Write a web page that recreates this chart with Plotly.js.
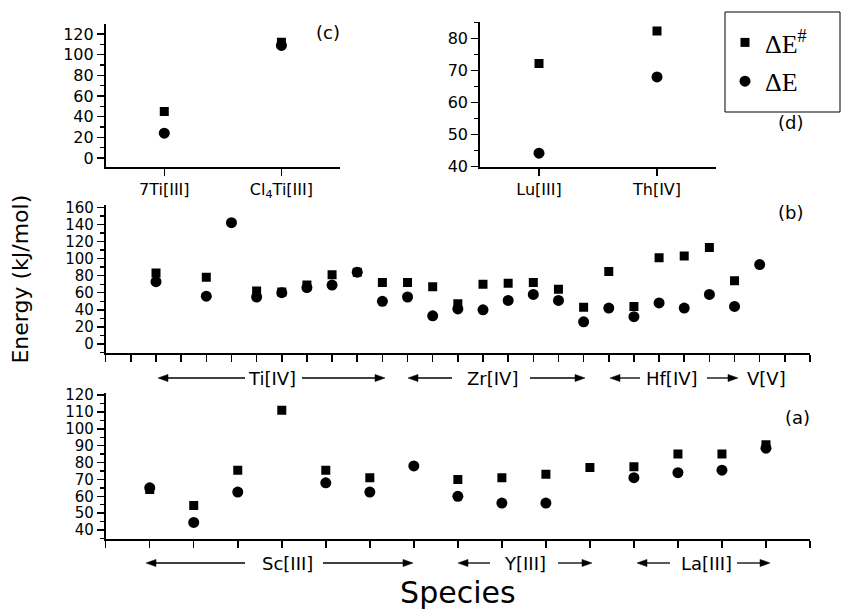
<!DOCTYPE html>
<html><head><meta charset="utf-8">
<script src="https://cdn.plot.ly/plotly-3.0.1.min.js"></script>
<style>html,body{margin:0;padding:0;background:#fff}</style>
</head><body><div id="chart" style="width:841px;height:610px"></div>
<script>
// ---- data ----
// Panel (c)
const cCategories = ['7Ti[III]', 'Cl<sub>4</sub>Ti[III]'];
const cBarrier = [45, 112];
const cReaction = [24, 109];
// Panel (d)
const dCategories = ['Lu[III]', 'Th[IV]'];
const dBarrier = [72.2, 82.3];
const dReaction = [44.2, 68.0];
// Panel (b): Ti[IV], Zr[IV], Hf[IV], V[V] species (index positions on the axis)
const bSpecies  = [2, 4, 5, 6, 7, 8, 9, 10, 11, 12, 13, 14, 15, 16, 17, 18, 19, 20, 21, 22, 23, 24, 25, 26];
const bBarrier  = [83, 78, null, 62, 61, 69, 81, 84, 72, 72, 67, 47, 70, 71, 72, 64, 43, 85, 44, 101, 103, 113, 74, null];
const bReaction = [73, 56, 142, 55, 60, 66, 69, 84, 50, 55, 33, 41, 40, 51, 58, 51, 26, 42, 32, 48, 42, 58, 44, 93];
// Panel (a): Sc[III], Y[III], La[III] species
const aSpecies  = [1, 2, 3, 4, 5, 6, 7, 8, 9, 10, 11, 12, 13, 14, 15];
const aBarrier  = [64, 54.5, 75.5, 111, 75.5, 71, null, 70, 71, 73, 77, 77.5, 85, 85, 90.5];
const aReaction = [65, 44.5, 62.5, null, 68, 62.5, 78, 60, 56, 56, null, 71, 74, 75.5, 88.5];
// Group labels
const bGroups = ['Ti[IV]', 'Zr[IV]', 'Hf[IV]', 'V[V]'];
const aGroups = ['Sc[III]', 'Y[III]', 'La[III]'];
const seriesNames = ['ΔE<sup>#</sup>', 'ΔE'];
const panelLabels = ['(a)', '(b)', '(c)', '(d)'];

// ---- layout helpers (pixel -> paper) ----
const W = 841, H = 610;
const px = v => v / W;
const py = v => 1 - v / H;
const FONT = 'DejaVu Sans, Arial, sans-serif';

const sq = {symbol: 'square', size: 9, color: '#000'};
const ci = {symbol: 'circle', size: 11, color: '#000'};

const traces = [
  {x: cCategories, y: cBarrier, xaxis: 'x', yaxis: 'y', mode: 'markers', marker: sq, name: seriesNames[0], legendgroup: 'g1', showlegend: true},
  {x: cCategories, y: cReaction, xaxis: 'x', yaxis: 'y', mode: 'markers', marker: ci, name: seriesNames[1], legendgroup: 'g2', showlegend: true},
  {x: dCategories, y: dBarrier, xaxis: 'x2', yaxis: 'y2', mode: 'markers', marker: sq, name: seriesNames[0], showlegend: false},
  {x: dCategories, y: dReaction, xaxis: 'x2', yaxis: 'y2', mode: 'markers', marker: ci, name: seriesNames[1], showlegend: false},
  {x: bSpecies, y: bBarrier, xaxis: 'x3', yaxis: 'y3', mode: 'markers', marker: sq, name: seriesNames[0], showlegend: false},
  {x: bSpecies, y: bReaction, xaxis: 'x3', yaxis: 'y3', mode: 'markers', marker: ci, name: seriesNames[1], showlegend: false},
  {x: aSpecies, y: aBarrier, xaxis: 'x4', yaxis: 'y4', mode: 'markers', marker: sq, name: seriesNames[0], showlegend: false},
  {x: aSpecies, y: aReaction, xaxis: 'x4', yaxis: 'y4', mode: 'markers', marker: ci, name: seriesNames[1], showlegend: false}
];

const axBase = {
  showline: true, linecolor: '#000', linewidth: 1.8, ticks: 'outside', ticklen: 7,
  tickwidth: 1.5, tickcolor: '#000', showgrid: false, zeroline: false, fixedrange: true,
  tickfont: {family: FONT, size: 16, color: '#000'}
};
const smallTicks = {family: FONT, size: 15, color: '#000'};
const yMinor = d => ({dtick: d, ticks: 'outside', ticklen: 4, tickwidth: 1.3, tickcolor: '#000', showgrid: false});

const layout = {
  width: W, height: H,
  margin: {l: 0, r: 0, t: 0, b: 0},
  paper_bgcolor: '#fff', plot_bgcolor: 'rgba(0,0,0,0)',
  font: {family: FONT, color: '#000'},
  showlegend: true,
  legend: {
    x: px(725), y: py(19), xanchor: 'left', yanchor: 'top',
    borderwidth: 0, bgcolor: 'rgba(0,0,0,0)',
    font: {family: 'Liberation Serif, Times New Roman, serif', size: 26, color: '#000'},
    traceorder: 'grouped', tracegroupgap: 2
  },
  // (c)
  xaxis: Object.assign({}, axBase, {domain: [px(105.7), px(340)], anchor: 'y', type: 'category', range: [-0.5, 1.5]}),
  yaxis: Object.assign({}, axBase, {domain: [py(167), py(24)], anchor: 'x', range: [-8.7, 129.7], dtick: 20, minor: yMinor(10)}),
  // (d)
  xaxis2: Object.assign({}, axBase, {domain: [px(480), px(716)], anchor: 'y2', type: 'category', range: [-0.5, 1.5]}),
  yaxis2: Object.assign({}, axBase, {domain: [py(166.7), py(21.7)], anchor: 'x2', range: [40, 85.2], dtick: 10, minor: yMinor(5)}),
  // (b)
  xaxis3: Object.assign({}, axBase, {domain: [px(105.7), px(810)], anchor: 'y3', range: [0, 28], dtick: 1, showticklabels: false}),
  yaxis3: Object.assign({}, axBase, {domain: [py(353.3), py(205)], anchor: 'x3', range: [-10.9, 162.7], dtick: 20, minor: yMinor(10),
    tickfont: smallTicks,
    title: {text: 'Energy (kJ/mol)', font: {family: FONT, size: 22, color: '#000'}, standoff: 30}}),
  // (a)
  xaxis4: Object.assign({}, axBase, {domain: [px(105.7), px(810)], anchor: 'y4', range: [0, 16], dtick: 1, showticklabels: false,
    title: {text: 'Species', font: {family: FONT, size: 30, color: '#000'}, standoff: 42}}),
  yaxis4: Object.assign({}, axBase, {domain: [py(539.3), py(392.7)], anchor: 'x4', range: [34.5, 121.4], dtick: 10, minor: yMinor(5),
    tickfont: smallTicks}),
  annotations: [],
  shapes: [
    // legend frame
    {type: 'rect', xref: 'paper', yref: 'paper', x0: px(725), x1: px(840), y0: py(112), y1: py(12),
     line: {color: '#000', width: 1}, fillcolor: 'rgba(0,0,0,0)'}
  ]
};

const ann = layout.annotations;
const shp = layout.shapes;
function label(text, xpx, ypx, size) {
  ann.push({text: text, xref: 'paper', yref: 'paper', x: px(xpx), y: py(ypx), showarrow: false,
    xanchor: 'center', yanchor: 'middle', font: {family: FONT, size: size || 18, color: '#000'}});
}
function arrow(headPx, tailPx, ypx) {
  const d = headPx > tailPx ? 1 : -1;
  const L = 10, hw = 3.6;
  shp.push({type: 'line', xref: 'paper', yref: 'paper', x0: px(tailPx), x1: px(headPx - d * (L - 2)),
    y0: py(ypx), y1: py(ypx), line: {color: '#000', width: 1.3}});
  const p = (a, b) => px(a) + ',' + py(b);
  shp.push({type: 'path', xref: 'paper', yref: 'paper',
    path: 'M' + p(headPx, ypx) + ' L' + p(headPx - d * L, ypx - hw) + ' L' + p(headPx - d * L, ypx + hw) + ' Z',
    fillcolor: '#000', line: {color: '#000', width: 0.5}});
}
// Panel (b) group arrows
const yb = 378;
arrow(158, 245, yb); arrow(385, 302, yb); label(bGroups[0], 272, yb);
arrow(408, 452, yb); arrow(585, 530, yb); label(bGroups[1], 493, yb);
arrow(610, 640, yb); arrow(738, 707, yb); label(bGroups[2], 672, yb);
label(bGroups[3], 766, yb);
// Panel (a) group arrows
const ya = 563;
arrow(146, 245, ya); arrow(413, 323, ya); label(aGroups[0], 287, ya);
arrow(458, 490, ya); arrow(592, 558, ya); label(aGroups[1], 525, ya);
arrow(637, 670, ya); arrow(770, 737, ya); label(aGroups[2], 706, ya);
// Panel letters
label(panelLabels[0], 797, 417, 18);
label(panelLabels[1], 790, 212, 18);
label(panelLabels[2], 328, 33, 18);
label(panelLabels[3], 790, 123, 18);

Plotly.newPlot('chart', traces, layout, {displayModeBar: false, staticPlot: true});
</script>
</body></html>
